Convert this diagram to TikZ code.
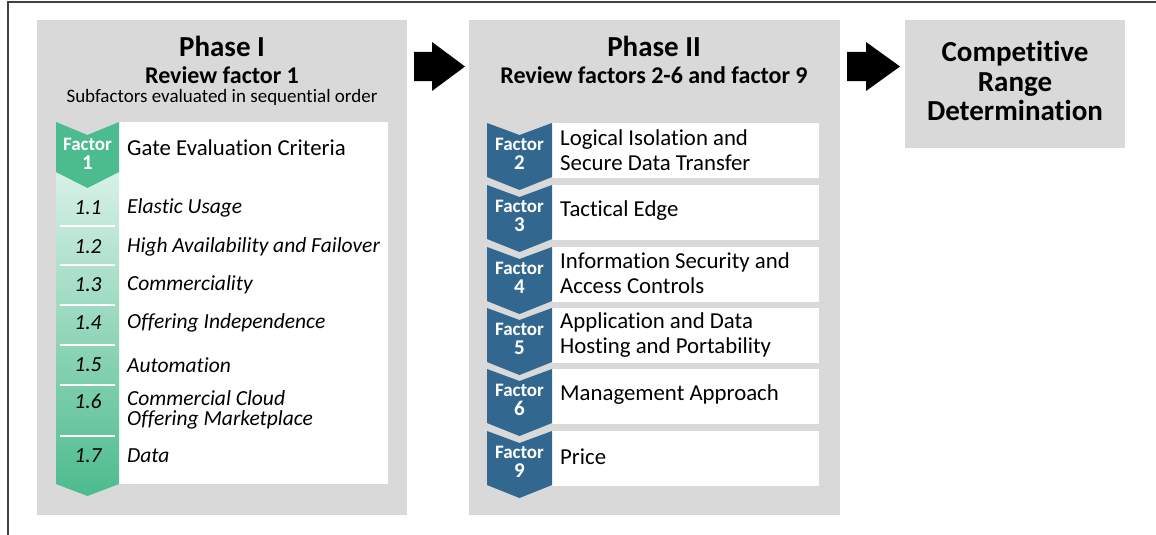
\documentclass[tikz,border=0pt]{standalone}
\usepackage{fontspec}
\setmainfont[Ligatures=NoCommon]{Carlito}
\usepackage{tikz}
\usepackage{xcolor}

\definecolor{panelgray}{RGB}{217,217,217}
\definecolor{framegray}{RGB}{64,64,64}
\definecolor{factorgreen}{RGB}{76,187,141}
\definecolor{palegreen}{RGB}{216,241,231}
\definecolor{factorblue}{RGB}{50,104,144}

\begin{document}
\begin{tikzpicture}[
    x=1pt, y=-1pt,
    panel/.style={fill=panelgray},
    card/.style={fill=white},
    title/.style={font=\fontsize{29}{29.5}\selectfont\bfseries, align=center},
    subtitle/.style={font=\fontsize{24}{24}\selectfont\bfseries},
    note/.style={font=\fontsize{19}{20}\selectfont},
    item/.style={anchor=west, inner sep=0pt, align=left, font=\fontsize{22.8}{25}\selectfont},
    subitem/.style={anchor=west, inner sep=0pt, align=left, font=\fontsize{21.5}{20}\selectfont\itshape},
    num/.style={inner sep=0pt, font=\fontsize{21.5}{24}\selectfont\itshape},
    tag/.style={text=white, inner sep=0pt, align=center, font=\fontsize{19}{19}\selectfont\bfseries},
    sep/.style={draw=white, line width=1.2pt}
]
    \useasboundingbox (0,0) rectangle (1156,535);
    \draw[framegray, line width=1.5pt] (8,535) -- (8,2) -- (1156,2);

    % Phase I panel
    \fill[panel] (37,20) rectangle (407,515);
    \node[title] (p1) at (222,46) {Phase I};
    \node[subtitle] (p1sub) at (222,75) {Review factor 1};
    \node[note] (p1note) at (222,97) {Subfactors evaluated in sequential order};
    \fill[card] (119,122) rectangle (388,484);
    \shade[top color=palegreen, bottom color=factorgreen]
        (56,172) -- (119,172) -- (119,484) -- (87.5,496) -- (56,484) -- cycle;
    \fill[factorgreen] (56,122) -- (87.5,135) -- (119,122) -- (119,172) -- (87.5,188) -- (56,172) -- cycle;
    \node[tag] (f1) at (87.5,154) {Factor\\{\fontsize{21}{19}\selectfont 1}};
    \node[item] (gate) at (127,148) {Gate Evaluation Criteria};

    % Subfactors
    \draw[sep] (60,226) -- (115,226);
    \draw[sep] (60,265) -- (115,265);
    \draw[sep] (60,305) -- (115,305);
    \draw[sep] (60,345) -- (115,345);
    \draw[sep] (60,385) -- (115,385);
    \draw[sep] (60,436) -- (115,436);
    \node[num] (n11) at (88,208) {1.1};
    \node[num] (n12) at (88,247) {1.2};
    \node[num] (n13) at (88,285) {1.3};
    \node[num] (n14) at (88,323) {1.4};
    \node[num] (n15) at (88,365) {1.5};
    \node[num] (n16) at (88,401) {1.6};
    \node[num] (n17) at (88,456) {1.7};
    \node[subitem] (s11) at (127,208) {Elastic Usage};
    \node[subitem] (s12) at (127,247) {High Availability and Failover};
    \node[subitem] (s13) at (127,285) {Commerciality};
    \node[subitem] (s14) at (127,323) {Offering Independence};
    \node[subitem] (s15) at (127,365) {Automation};
    \node[subitem] (s16) at (127,410) {Commercial Cloud\\Offering Marketplace};
    \node[subitem] (s17) at (127,456) {Data};

    % Block arrows
    \fill (414,52) -- (432,52) -- (432,42) -- (465,66.5) -- (432,91) -- (432,81) -- (414,81) -- cycle;
    \fill (847,52) -- (866,52) -- (866,42) -- (900,66.5) -- (866,91) -- (866,81) -- (847,81) -- cycle;

    % Phase II panel
    \fill[panel] (469,20) rectangle (840,515);
    \node[title] (p2) at (654,46) {Phase II};
    \node[subtitle] (p2sub) at (654,75) {Review factors 2-6 and factor 9};

    \fill[card] (552,123) rectangle (819,178);
    \fill[card] (552,185) rectangle (819,240);
    \fill[card] (552,247) rectangle (819,302);
    \fill[card] (552,308) rectangle (819,363);
    \fill[card] (552,369) rectangle (819,424);
    \fill[card] (552,431) rectangle (819,486);

    \fill[factorblue] (487,123) -- (519.5,135) -- (552,123) -- (552,177) -- (519.5,190) -- (487,177) -- cycle;
    \fill[factorblue] (487,185) -- (519.5,197) -- (552,185) -- (552,239) -- (519.5,252) -- (487,239) -- cycle;
    \fill[factorblue] (487,247) -- (519.5,259) -- (552,247) -- (552,301) -- (519.5,314) -- (487,301) -- cycle;
    \fill[factorblue] (487,308) -- (519.5,320) -- (552,308) -- (552,362) -- (519.5,375) -- (487,362) -- cycle;
    \fill[factorblue] (487,369) -- (519.5,381) -- (552,369) -- (552,423) -- (519.5,436) -- (487,423) -- cycle;
    \fill[factorblue] (487,431) -- (519.5,443) -- (552,431) -- (552,485) -- (519.5,498) -- (487,485) -- cycle;

    \node[tag] (f2) at (519.5,154) {Factor\\{\fontsize{21}{19}\selectfont 2}};
    \node[tag] (f3) at (519.5,216) {Factor\\{\fontsize{21}{19}\selectfont 3}};
    \node[tag] (f4) at (519.5,278) {Factor\\{\fontsize{21}{19}\selectfont 4}};
    \node[tag] (f5) at (519.5,339) {Factor\\{\fontsize{21}{19}\selectfont 5}};
    \node[tag] (f6) at (519.5,400) {Factor\\{\fontsize{21}{19}\selectfont 6}};
    \node[tag] (f9) at (519.5,462) {Factor\\{\fontsize{21}{19}\selectfont 9}};

    \node[item] (r2) at (560,150) {Logical Isolation and\\Secure Data Transfer};
    \node[item] (r3) at (560,211) {Tactical Edge};
    \node[item] (r4) at (560,273) {Information Security and\\Access Controls};
    \node[item] (r5) at (560,335) {Application and Data\\Hosting and Portability};
    \node[item] (r6) at (560,395) {Management Approach};
    \node[item] (r9) at (560,457) {Price};

    % Last step
    \fill[panel] (905,20) rectangle (1125,148);
    \node[title] (crd) at (1015,81) {Competitive\\Range\\Determination};
\end{tikzpicture}
\end{document}
